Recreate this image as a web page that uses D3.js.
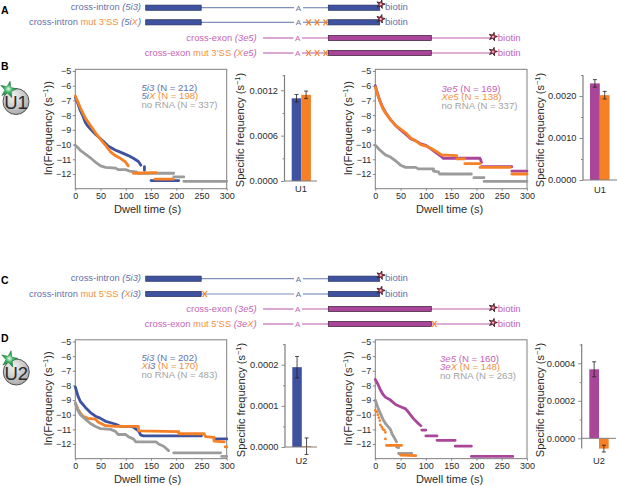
<!DOCTYPE html>
<html>
<head>
<meta charset="utf-8">
<script src="https://cdn.jsdelivr.net/npm/d3@7"></script>
<style>
  html, body { margin: 0; padding: 0; background: #fff; }
  svg { display: block; }
  text { font-family: "Liberation Sans", Arial, sans-serif; }
</style>
</head>
<body>
<svg id="viz" width="617" height="486"></svg>
<script>
// colours
const BLUE = "#3f529f", PURPLE = "#a9469a", ORANGE = "#f58026", GRAY = "#9b9b9b"
const BLUE_TXT = "#5f72ad", PURPLE_TXT = "#c464b4", ORANGE_TXT = "#f0923f", GRAY_TXT = "#a3a3a3"
const AXIS = "#7f7f7f"

// dwell curves: [seconds, ln(freq)], null = gap between steps
const b1Blue = [[0,-6.8],[5,-7.2],[10,-7.7],[15,-8.05],[20,-8.5],[25,-8.75],[30,-8.95],[40,-9.3],[55,-9.76],[65,-10.1],[79,-10.37],[95,-10.6],[105,-10.75],[115,-10.93],[125,-11.15],[130,-11.4],null,[137,-11.5],[137,-11.75],null,[150,-12.45],[205,-12.45]]
const b1Orange = [[0,-6.7],[5,-7.1],[10,-7.5],[20,-8.2],[30,-8.7],[40,-9.2],[50,-9.65],[60,-10.05],[70,-10.5],[79,-10.75],[90,-10.95],[100,-11.2],[105,-11.45],null,[115,-11.95],[125,-11.95],[160,-11.9],null,[158,-12.35],[194,-12.35]]
const b1Gray = [[0,-10.05],[5,-10.2],[10,-10.4],[20,-10.65],[30,-10.9],[40,-11.2],[50,-11.45],[60,-11.55],[80,-11.6],[85,-11.7],[100,-11.7],[107,-11.8],[120,-11.85],[125,-11.95],[195,-11.95],null,[195,-12.2],[215,-12.2],null,[215,-12.5],[300,-12.5]]

const b2Purple = [[0,-6],[5,-6.6],[10,-7.1],[15,-7.5],[20,-7.8],[30,-8.3],[40,-8.7],[50,-9],[60,-9.3],[70,-9.6],[80,-9.75],[90,-9.95],[100,-10.05],[110,-10.3],[120,-10.55],[130,-10.8],[134,-10.93],[207,-10.93],[210,-11.2],null,[210,-11.5],[270,-11.5],null,[270,-11.8],[300,-11.8]]
const b2Orange = [[0,-6.1],[5,-6.65],[10,-7.15],[15,-7.55],[20,-7.85],[30,-8.3],[40,-8.7],[50,-8.95],[60,-9.2],[70,-9.55],[80,-9.75],[90,-10],[100,-10.1],[110,-10.25],[120,-10.45],[131,-10.7],[161,-10.75],null,[161,-10.97],[177,-10.97],null,[177,-11.3],[207,-11.3],null,[207,-11.55],[267,-11.55],null,[270,-12],[300,-12]]
const b2Gray = [[0,-10.05],[10,-10.4],[20,-10.7],[30,-10.85],[40,-11.1],[50,-11.4],[60,-11.55],[80,-11.55],[85,-11.65],[115,-11.65],[115,-11.8],[125,-11.85],[127,-12],[190,-12],null,[195,-12.25],[215,-12.25],null,[215,-12.5],[300,-12.5]]

const d1Blue = [[0,-8.1],[5,-8.7],[10,-9.1],[20,-9.5],[30,-9.85],[40,-10.1],[50,-10.25],[60,-10.45],[70,-10.55],[80,-10.65],[90,-10.8],[110,-10.8],[115,-10.85],[125,-11.1],[130,-11.4],[135,-11.45],[250,-11.45],null,[275,-11.65],[300,-11.65]]
const d1Orange = [[0,-9.2],[5,-9.6],[10,-9.9],[15,-10.1],[25,-10.25],[40,-10.3],[45,-10.5],[60,-10.75],[80,-10.8],[125,-10.8],[125,-11.1],[205,-11.15],[205,-11.3],[255,-11.3],[258,-11.5],[275,-11.55],[275,-11.8],[295,-11.85],null,[297,-12.2],[300,-12.2]]
const d1Gray = [[0,-9.2],[5,-9.7],[10,-10],[20,-10.3],[30,-10.6],[40,-10.8],[50,-10.95],[70,-11],[80,-11.15],[85,-11.35],[100,-11.35],[105,-11.5],[115,-11.65],[120,-11.85],[160,-11.85],[165,-12],[175,-12.15],[185,-12.45],null,[195,-12.6],[288,-12.6],null,[290,-12.85],[300,-12.85]]

const d2Purple = [[0,-7.6],[5,-7.9],[10,-8.3],[15,-8.6],[20,-8.8],[30,-9],[40,-9.3],[50,-9.45],[60,-9.6],[65,-9.8],[75,-10.25],[85,-10.6],[90,-10.75],null,[92,-11.05],[100,-11.05],null,[100,-11.45],[122,-11.45],null,[122,-11.75],[158,-11.75],null,[158,-12.15],[190,-12.15],null,[190,-12.85],[272,-12.85]]
const d2Orange = [[0,-9.7],null,[3,-9.8],null,[5,-10],null,[7,-10.2],null,[9,-10.4],null,[10,-10.7],null,[13,-10.85],null,[15,-11],null,[18,-11.05],null,[20,-11.2],null,[20,-11.65],null,[22,-12.1],[52,-12.1],null,[50,-12.75],[80,-12.8]]
const d2Gray = [[0,-9],[3,-9.3],[6,-9.6],[10,-9.9],[15,-10.3],[20,-10.6],[25,-10.8],[30,-11],[33,-11.3],[38,-11.6],[42,-11.85],null,[42,-12.2],[46,-12.25],null,[46,-12.65],[72,-12.65]]

// bars: value, error
const b1Bars = [0.001094, 0.00114], b1Errs = [0.00005, 0.00005]
const b2Bars = [0.0023, 0.00202], b2Errs = [0.00009, 0.00009]
const d1Bars = [0.000194, 0.000002], d1Errs = [0.000026, 0.00002]
const d2Bars = [0.000368, -0.000055], d2Errs = [0.00004, 0.000018]

const dwellTicks = [0, 50, 100, 150, 200, 250, 300]
const lnTicks = [-5, -6, -7, -8, -9, -10, -11, -12]

let viz = d3.select("#viz")

function addLabel(x, y, parts, anchor, size) {
    let t = viz.append("text").attr("x", x).attr("y", y)
        .attr("text-anchor", anchor || "start").attr("font-size", size || 9.4)
    parts.forEach(p => {
        t.append("tspan").text(p[0]).attr("fill", p[1]).attr("font-style", p[2] ? "italic" : "normal")
    })
    return t
}

function yLabel(x, y, parts, size) {
    let t = viz.append("text").attr("transform", `translate(${x},${y}) rotate(-90)`)
        .attr("text-anchor", "middle").attr("font-size", size).attr("fill", "#2b2b2b")
    parts.forEach(p => {
        let s = t.append("tspan").text(p[0])
        if (p[1] == "sup") s.attr("font-size", size * 0.68).attr("dy", -4)
        if (p[1] == "after") s.attr("dy", 4)
    })
}

function styleAxis(g, size) {
    g.selectAll(".domain").attr("stroke", AXIS).attr("stroke-width", 1)
    g.selectAll(".tick line").attr("stroke", AXIS).attr("stroke-width", 0.9)
    g.selectAll(".tick text").attr("fill", "#2b2b2b").attr("font-size", size)
        .attr("font-family", '"Liberation Sans", Arial, sans-serif')
}

function dwellPlot(left, right, y5, y12, series, legend, legendX, legendY, titleShift) {
    let x = d3.scaleLinear().domain([0, 300]).range([left, right])
    let y = d3.scaleLinear().domain([-5, -12]).range([y5, y12])
    let bottom = y(-13)
    let top = y5 - 1.7

    viz.append("rect").attr("x", left).attr("y", top).attr("width", right - left).attr("height", bottom - top)
        .attr("fill", "none").attr("stroke", AXIS).attr("stroke-width", 1)

    let line = d3.line().defined(d => d).x(d => x(d[0])).y(d => y(d[1]))
    series.forEach(s => {
        viz.append("path").attr("d", line(s.pts)).attr("fill", "none")
            .attr("stroke", s.color).attr("stroke-width", 2.8).attr("stroke-linecap", "round").attr("stroke-linejoin", "round")
    })

    let yAxis = viz.append("g").attr("transform", `translate(${left},0)`)
        .call(d3.axisLeft(y).tickValues(lnTicks).tickSize(2.5).tickPadding(1.5).tickFormat(d => "\u2212" + Math.abs(d)))
    yAxis.select(".domain").remove()
    styleAxis(yAxis, 9)
    let xAxis = viz.append("g").attr("transform", `translate(0,${bottom})`)
        .call(d3.axisBottom(x).tickValues(dwellTicks).tickSize(2).tickPadding(1.5))
    xAxis.select(".domain").remove()
    styleAxis(xAxis, 9)

    legend.forEach((parts, i) => addLabel(legendX, legendY[i], parts, "start", 9.6))

    viz.append("text").attr("x", (left + right) / 2 + titleShift).attr("y", bottom + 24).attr("text-anchor", "middle")
        .attr("font-size", 11.1).attr("fill", "#2b2b2b").text("Dwell time (s)")
    yLabel(left - 23, (y5 + y12) / 2 + 5.5, [["ln(Frequency (s"], ["\u22121", "sup"], ["))", "after"]], 11.2)
}

function barPlot(axisX, y0, yRef, refVal, topY, endX, barLeft, barW, vals, errs, colors, ticks, minor, cat, catX, catY, titleX, titleY) {
    let y = d3.scaleLinear().domain([0, refVal]).range([y0, yRef])
    let x = d3.scaleBand().domain(d3.range(vals.length)).range([barLeft, barLeft + barW * vals.length])

    viz.selectAll(null).data(vals).enter().append("rect")
        .attr("x", (d, i) => x(i)).attr("width", x.bandwidth())
        .attr("y", d => Math.min(y(d), y0)).attr("height", d => Math.abs(y(d) - y0))
        .attr("fill", (d, i) => colors[i])

    vals.forEach((v, i) => {
        let cx = x(i) + x.bandwidth() / 2
        let e = viz.append("g").attr("stroke", "#222").attr("stroke-width", 0.8)
        e.append("line").attr("x1", cx).attr("x2", cx).attr("y1", y(v + errs[i])).attr("y2", y(v - errs[i]))
        e.append("line").attr("x1", cx - 2).attr("x2", cx + 2).attr("y1", y(v + errs[i])).attr("y2", y(v + errs[i]))
        e.append("line").attr("x1", cx - 2).attr("x2", cx + 2).attr("y1", y(v - errs[i])).attr("y2", y(v - errs[i]))
    })

    let ax = viz.append("g").attr("transform", `translate(${axisX},0)`)
        .call(d3.axisLeft(y).tickValues(ticks).tickSize(3.5).tickPadding(3).tickFormat(d3.format(".4f")))
    ax.select(".domain").remove()
    styleAxis(ax, 9.3)
    let mn = viz.append("g").attr("transform", `translate(${axisX},0)`)
        .call(d3.axisLeft(y).tickValues(minor).tickSize(2).tickFormat(""))
    mn.select(".domain").remove()
    styleAxis(mn, 9.3)

    viz.append("line").attr("x1", axisX).attr("x2", axisX).attr("y1", topY).attr("y2", d3.max([y0, y(d3.min(vals))]))
        .attr("stroke", AXIS).attr("stroke-width", 1.2)
    viz.append("line").attr("x1", axisX).attr("x2", endX).attr("y1", y0).attr("y2", y0)
        .attr("stroke", AXIS).attr("stroke-width", 1)

    viz.append("text").attr("x", catX).attr("y", catY).attr("text-anchor", "middle")
        .attr("font-size", 9.3).attr("fill", "#2b2b2b").text(cat)
    yLabel(titleX, titleY, [["Specific frequency (s"], ["\u22121", "sup"], [")", "after"]], 11)
}

// panel B
dwellPlot(75.3, 226.7, 71, 174, [{pts: b1Blue, color: BLUE}, {pts: b1Gray, color: GRAY}, {pts: b1Orange, color: ORANGE}],
    [[["5i3", BLUE_TXT, 1], [" (N = 212)", BLUE_TXT]],
     [["5i", BLUE_TXT, 1], ["X", ORANGE_TXT, 1], [" (N = 198)", ORANGE_TXT]],
     [["no RNA (N = 337)", GRAY_TXT]]], 141.5, [90.5, 98.5, 107.5], -3.5)
dwellPlot(375.3, 527, 71, 174, [{pts: b2Purple, color: PURPLE}, {pts: b2Gray, color: GRAY}, {pts: b2Orange, color: ORANGE}],
    [[["3e5", PURPLE_TXT, 1], [" (N = 169)", PURPLE_TXT]],
     [["Xe5", ORANGE_TXT, 1], [" (N = 138)", ORANGE_TXT]],
     [["no RNA (N = 337)", GRAY_TXT]]], 441.5, [91.5, 99.5, 108.5], -1.5)
barPlot(284.5, 181, 90.3, 0.0012, 75, 317, 291.7, 9.6, b1Bars, b1Errs, [BLUE, ORANGE],
    [0, 0.0006, 0.0012], [0.0003, 0.0009, 0.0014], "U1", 301, 192, 244, 130)
barPlot(583, 180, 96, 0.002, 75, 617, 590, 9.8, b2Bars, b2Errs, [PURPLE, ORANGE],
    [0, 0.001, 0.002], [0.0005, 0.0015, 0.0025], "U1", 600, 193, 544, 130)

// panel D
dwellPlot(75.3, 226.7, 341.5, 444, [{pts: d1Blue, color: BLUE}, {pts: d1Orange, color: ORANGE}, {pts: d1Gray, color: GRAY}],
    [[["5i3", BLUE_TXT, 1], [" (N = 202)", BLUE_TXT]],
     [["X", ORANGE_TXT, 1], ["i3", BLUE_TXT, 1], [" (N = 170)", ORANGE_TXT]],
     [["no RNA (N = 483)", GRAY_TXT]]], 141.5, [360.5, 369, 378], -3.5)
dwellPlot(375.3, 527, 341.5, 444, [{pts: d2Purple, color: PURPLE}, {pts: d2Gray, color: GRAY}, {pts: d2Orange, color: ORANGE}],
    [[["3e5", PURPLE_TXT, 1], [" (N = 160)", PURPLE_TXT]],
     [["3e", PURPLE_TXT, 1], ["X", ORANGE_TXT, 1], [" (N = 148)", ORANGE_TXT]],
     [["no RNA (N = 263)", GRAY_TXT]]], 440, [361.5, 369.5, 379], -1.5)
barPlot(285, 447, 364.7, 0.0002, 344, 317, 292.3, 9.5, d1Bars, d1Errs, [BLUE, ORANGE],
    [0, 0.0001, 0.0002], [0.00005, 0.00015, 0.00025], "U2", 301.5, 463.5, 245, 400)
barPlot(581.7, 438.3, 363.3, 0.0004, 344, 616, 589.3, 9.7, d2Bars, d2Errs, [PURPLE, ORANGE],
    [0, 0.0002, 0.0004], [0.0001, 0.0003, 0.0005], "U2", 599, 463.5, 544, 400)

// schematic rows
function star(x, y) {
    viz.append("path").attr("transform", `translate(${x},${y}) rotate(15)`)
        .attr("d", d3.symbol().type(d3.symbolStar).size(22)())
        .attr("fill", "#d9304f").attr("stroke", "#3a1c24").attr("stroke-width", 0.8)
    viz.append("circle").attr("cx", x).attr("cy", y).attr("r", 1).attr("fill", "#f7c9d2")
}

function crossMark(x, y) {
    viz.append("path").attr("d", `M${x - 2.2},${y - 3}L${x + 2.2},${y + 3}M${x + 2.2},${y - 3}L${x - 2.2},${y + 3}`)
        .attr("stroke", ORANGE).attr("stroke-width", 1.2).attr("fill", "none")
}

function construct(y, kind, parts, marks) {
    let txt = kind == "intron" ? BLUE_TXT : PURPLE_TXT
    let col = kind == "intron" ? BLUE : PURPLE
    let lineCol = kind == "intron" ? "#8090bd" : "#bb5fae"
    if (kind == "intron") {
        viz.append("line").attr("x1", 201).attr("x2", 294).attr("y1", y).attr("y2", y).attr("stroke", lineCol).attr("stroke-width", 1.2)
        viz.append("line").attr("x1", 303).attr("x2", 329).attr("y1", y).attr("y2", y).attr("stroke", lineCol).attr("stroke-width", 1.2)
        viz.append("rect").attr("x", 145.7).attr("y", y - 2.6).attr("width", 55.5).attr("height", 5.2)
            .attr("fill", col).attr("stroke", "#26325e").attr("stroke-width", 0.7)
        viz.append("rect").attr("x", 328.3).attr("y", y - 2.6).attr("width", 51.4).attr("height", 5.2)
            .attr("fill", col).attr("stroke", "#26325e").attr("stroke-width", 0.7)
        addLabel(298.5, y + 2.8, [["A", txt]], "middle", 8)
        addLabel(141, y + 2.6, parts, "end")
        star(380.7, y - 3.4)
        addLabel(385, y + 2.6, [["biotin", txt]], "start", 9.6)
    } else {
        viz.append("line").attr("x1", 263).attr("x2", 293.5).attr("y1", y).attr("y2", y).attr("stroke", lineCol).attr("stroke-width", 1.1)
        viz.append("line").attr("x1", 302).attr("x2", 493).attr("y1", y).attr("y2", y).attr("stroke", lineCol).attr("stroke-width", 1.1)
        viz.append("rect").attr("x", 328.3).attr("y", y - 2.6).attr("width", 103).attr("height", 5.2)
            .attr("fill", col).attr("stroke", "#3a2038").attr("stroke-width", 0.7)
        addLabel(297.7, y + 2.8, [["A", txt]], "middle", 8)
        addLabel(256.7, y + 2.6, parts, "end")
        star(493, y - 1.3)
        addLabel(497.7, y + 2.6, [["biotin", txt]], "start", 9.6)
    }
    marks.forEach(m => crossMark(m, y))
}

const threeSites = [308.5, 317, 325.7]
construct(7.7, "intron", [["cross-intron ", BLUE_TXT], ["(5i3)", BLUE_TXT, 1]], [])
construct(22.3, "intron", [["cross-intron ", BLUE_TXT], ["mut 3\u2019SS ", ORANGE_TXT], ["(5i", BLUE_TXT, 1], ["X", ORANGE_TXT, 1], [")", BLUE_TXT, 1]], threeSites)
construct(38, "exon", [["cross-exon ", PURPLE_TXT], ["(3e5)", PURPLE_TXT, 1]], [])
construct(53, "exon", [["cross-exon ", PURPLE_TXT], ["mut 3\u2019SS ", ORANGE_TXT], ["(", PURPLE_TXT, 1], ["X", ORANGE_TXT, 1], ["e5)", PURPLE_TXT, 1]], threeSites)

construct(278.7, "intron", [["cross-intron ", BLUE_TXT], ["(5i3)", BLUE_TXT, 1]], [])
construct(294, "intron", [["cross-intron ", BLUE_TXT], ["mut 5\u2019SS ", ORANGE_TXT], ["(", BLUE_TXT, 1], ["X", ORANGE_TXT, 1], ["i3)", BLUE_TXT, 1]], [204.7])
construct(309, "exon", [["cross-exon ", PURPLE_TXT], ["(3e5)", PURPLE_TXT, 1]], [])
construct(324, "exon", [["cross-exon ", PURPLE_TXT], ["mut 5\u2019SS ", ORANGE_TXT], ["(3e", PURPLE_TXT, 1], ["X", ORANGE_TXT, 1], [")", PURPLE_TXT, 1]], [434.3])

// panel letters
const panelLetters = ["A", "B", "C", "D"]
const letterY = [14, 70, 284, 342]
panelLetters.forEach((l, i) => {
    viz.append("text").attr("x", 1).attr("y", letterY[i]).attr("font-size", 10.5)
        .attr("font-weight", "bold").attr("fill", "#000").text(l)
})

// snRNP icons
let defs = viz.append("defs")
let grayGrad = defs.append("radialGradient").attr("id", "ballGray").attr("cx", "40%").attr("cy", "30%").attr("r", "75%")
grayGrad.append("stop").attr("offset", "0%").attr("stop-color", "#f2f2f2")
grayGrad.append("stop").attr("offset", "100%").attr("stop-color", "#a8a8a8")
let greenGrad = defs.append("radialGradient").attr("id", "starGreen")
greenGrad.append("stop").attr("offset", "0%").attr("stop-color", "#e5fbe9")
greenGrad.append("stop").attr("offset", "45%").attr("stop-color", "#3fb765")
greenGrad.append("stop").attr("offset", "100%").attr("stop-color", "#1c8a43")

function icon(cx, cy, sx, sy, name) {
    viz.append("circle").attr("cx", cx).attr("cy", cy).attr("r", 13)
        .attr("fill", "url(#ballGray)").attr("stroke", "#444").attr("stroke-width", 0.9)
    viz.append("text").attr("x", cx).attr("y", cy + 7.5).attr("text-anchor", "middle")
        .attr("font-size", 18.5).attr("fill", "#2b2b2b").text(name)
    viz.append("path").attr("transform", `translate(${sx},${sy}) rotate(12)`)
        .attr("d", d3.symbol().type(d3.symbolStar).size(85)())
        .attr("fill", "url(#starGreen)").attr("stroke", "#1e6e3a").attr("stroke-width", 0.5)
}
icon(16, 101.5, 8.3, 89.7, "U1")
icon(16.3, 372, 9.3, 359.3, "U2")
</script>
</body>
</html>
